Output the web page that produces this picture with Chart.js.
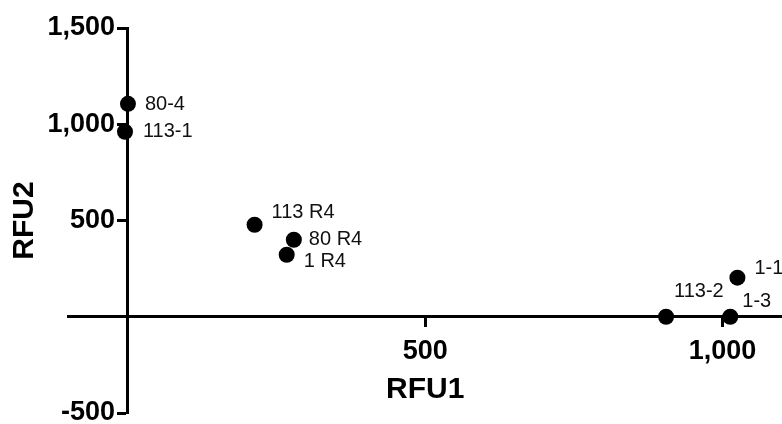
<!DOCTYPE html>
<html>
<head>
<meta charset="utf-8">
<script src="https://cdn.jsdelivr.net/npm/chart.js@4"></script>
<style>
  html, body { margin:0; padding:0; background:#fff; overflow:hidden; }
  canvas { display:block; }
</style>
</head>
<body>
<canvas id="grafica" width="782" height="424"></canvas>
<script>
// datos
const muestras = ['80-4', '113-1', '113 R4', '80 R4', '1 R4', '1-1', '113-2', '1-3'];
const rfu1     = [0, -5, 213, 279, 267, 1025, 905, 1013];
const rfu2     = [1106, 961, 478, 400, 322, 203, 0, 0];
const ticksX   = [500, 1000];
const ticksY   = [-500, 500, 1000, 1500];

// desplazamiento de cada etiqueta respecto a su punto (px)
const desplaz = [[17,1],[18,0],[17,-12],[15,0],[17,7],[17,-9],[8,-25],[12,-15]];

const fam = '"Liberation Sans", Arial, sans-serif';
const fmt = v => Number(v).toLocaleString('en-US');

const etiquetas = {
  id:'etiquetas',
  afterDatasetsDraw(chart){
    const ctx = chart.ctx;
    const pts = chart.getDatasetMeta(0).data;
    ctx.save();
    ctx.font = '20px ' + fam;
    ctx.fillStyle = '#111';
    ctx.textAlign = 'left';
    ctx.textBaseline = 'middle';
    pts.forEach((p, i) => {
      const [dx, dy] = desplaz[i];
      ctx.fillText(muestras[i], p.x + dx, p.y + dy);
    });
    ctx.restore();
  }
};

new Chart(document.getElementById('grafica').getContext('2d'), {
  type:'scatter',
  data:{ datasets:[{
    label:'RFU',
    data: rfu1.map((x, i) => ({x, y: rfu2[i]})),
    pointRadius:8, pointHoverRadius:8,
    backgroundColor:'#000', borderColor:'#000', borderWidth:0
  }]},
  options:{
    responsive:false, animation:false,
    layout:{ autoPadding:false, padding:{ left:10, top:28, right:0, bottom:11 } },
    plugins:{
      legend:{ display:false },
      tooltip:{ enabled:false },
      title:{ display:true, position:'left', text:'RFU2', color:'#000',
        font:{ family:fam, size:30, weight:'bold', lineHeight:1 },
        padding:{ top:0, bottom:28.5 } }
    },
    scales:{
      x:{
        type:'linear', min:-100, max:1100, position:{ y:0 },
        afterBuildTicks: s => { s.ticks = ticksX.map(v => ({value:v})); },
        afterFit: s => { s.paddingLeft = 0; s.paddingRight = 0; },
        ticks:{ color:'#000', padding:12.5, callback: fmt,
          font:{ family:fam, size:27, weight:'bold', lineHeight:1 } },
        grid:{ drawOnChartArea:false, drawTicks:true, tickLength:9, tickWidth:3, tickColor:'#000' },
        border:{ display:true, color:'#000', width:3 },
        title:{ display:true, text:'RFU1', color:'#000',
          font:{ family:fam, size:30, weight:'bold', lineHeight:1 },
          padding:{ top:-3, bottom:0 } }
      },
      y:{
        type:'linear', min:-500, max:1500, position:{ x:0 },
        afterBuildTicks: s => { s.ticks = ticksY.map(v => ({value:v})); },
        afterFit: s => { s.paddingTop = 0; s.paddingBottom = 0; },
        // el eje centrado no deja hueco entre etiqueta y eje: se añade con espacios
        ticks:{ color:'#000', padding:3, callback: v => fmt(v) + ' \u2009',
          font:{ family:fam, size:27, weight:'bold', lineHeight:1 } },
        grid:{ drawOnChartArea:false, drawTicks:true, tickLength:9, tickWidth:3, tickColor:'#000' },
        border:{ display:true, color:'#000', width:3 }
      }
    }
  },
  plugins:[etiquetas]
});
</script>
</body>
</html>
